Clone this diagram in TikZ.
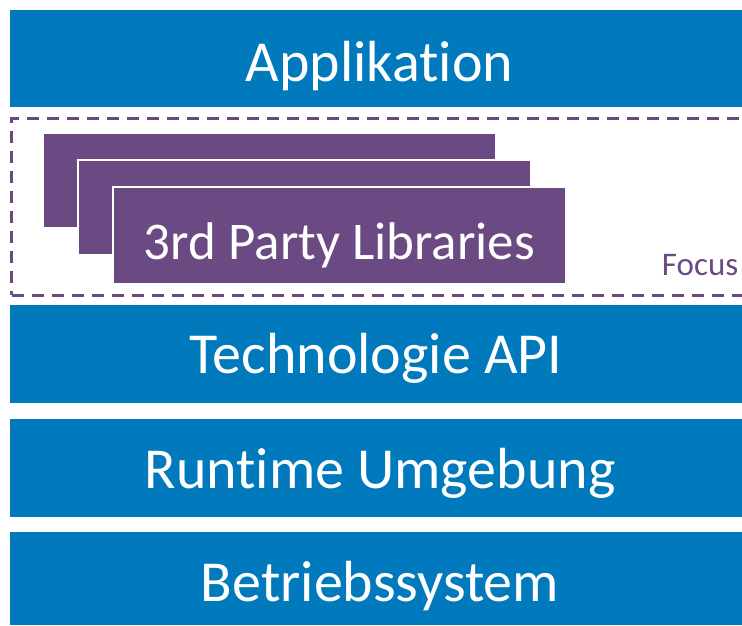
\documentclass[tikz,border=0pt]{standalone}
\usepackage{fontspec}
\setmainfont{Carlito}[Ligatures=NoCommon]
\definecolor{barblue}{RGB}{0,122,189}
\definecolor{libpurple}{RGB}{107,74,131}
\begin{document}
\begin{tikzpicture}[x=1pt,y=-1pt,
  layer/.style={fill=barblue,inner sep=0pt,outer sep=0pt,minimum width=732pt},
  lbl/.style={text=white,inner sep=0pt,anchor=base,font=\fontsize{58}{70}\selectfont},
  lib/.style={fill=libpurple,draw=white,line width=2pt,inner sep=0pt,
    minimum width=453pt,minimum height=95pt},
  focusbox/.style={draw=libpurple,line width=3pt,dash pattern=on 12pt off 8pt,
    inner sep=0pt,outer sep=0pt}]
\useasboundingbox (0,0) rectangle (742,625);
\node[layer,minimum height=97pt] (app) at (376,58.5) {};
\node[lbl] (applbl) at (379.5,81) {Applikation};
\node[focusbox,minimum width=735pt,minimum height=177pt] (focus) at (379,206.5) {};
\node[lib] (lib1) at (269.5,180.5) {};
\node[lib] (lib2) at (304.5,207.5) {};
\node[lib,minimum height=97pt] (lib3) at (339.5,235.5) {};
\node[lbl,font=\fontsize{53}{64}\selectfont] (liblbl) at (339.5,259) {3rd Party Libraries};
\node[text=libpurple,font=\fontsize{33}{40}\selectfont,anchor=base east,inner sep=0pt] (focuslabel) at (738.5,275) {Focus};
\node[layer,minimum height=98pt] (api) at (376,354) {};
\node[lbl] (apilbl) at (376,373) {Technologie API};
\node[layer,minimum height=98pt] (rt) at (376,468) {};
\node[lbl] (rtlbl) at (380,488.3) {Runtime Umgebung};
\node[layer,minimum height=93pt] (os) at (376,578.5) {};
\node[lbl] (oslbl) at (380,601.7) {Betriebssystem};
\end{tikzpicture}
\end{document}
